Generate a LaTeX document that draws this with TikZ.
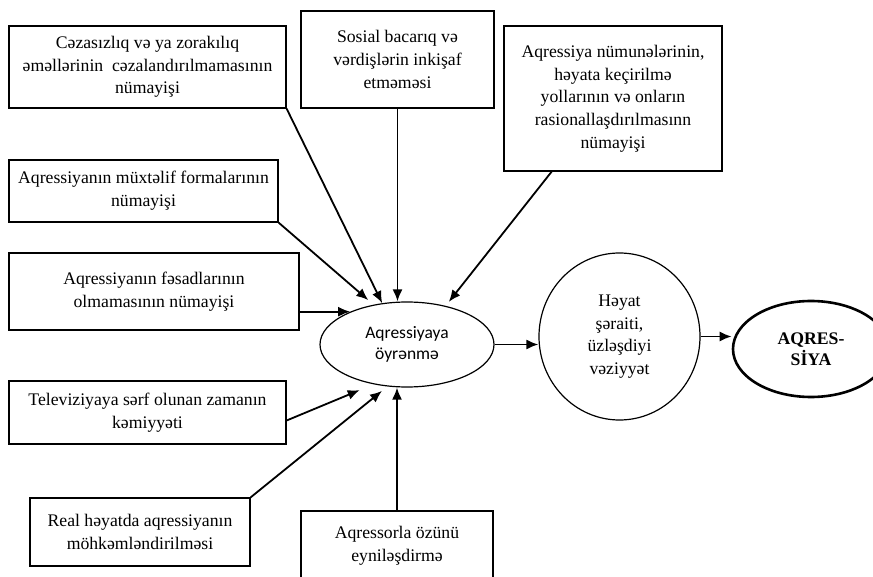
\documentclass[tikz,border=0pt]{standalone}
\usepackage{fontspec}
\setmainfont{Liberation Serif}
\newfontfamily\calibrifont{Carlito}
\usetikzlibrary{arrows.meta,calc,positioning,shapes.geometric}

\begin{document}
\begin{tikzpicture}[
  x=1pt,
  y=-1pt,
  font=\fontsize{17.7}{22.7}\selectfont
]

  \tikzstyle{factnode}=[draw,rectangle,line width=1.2pt,inner sep=0pt,align=center]
  \tikzstyle{learnnode}=[draw,ellipse,line width=1.2pt,inner sep=0pt,align=center,font=\calibrifont\fontsize{17.5}{21}\selectfont]
  \tikzstyle{lifenode}=[draw,ellipse,line width=1.2pt,inner sep=0pt,align=center]
  \tikzstyle{resultnode}=[draw,ellipse,line width=2.6pt,inner sep=0pt,align=center,font=\bfseries\fontsize{17.7}{20.5}\selectfont]

  \tikzstyle{pointer}=[draw,line width=1.8pt,-{Latex[length=12pt,width=10pt]}]

  \useasboundingbox (0,0) rectangle (873,577);

  % nodes
  \node[factnode,minimum width=277pt,minimum height=82pt] (x1) at (147.5,67) {Cəzasızlıq və ya zorakılıq\\ əməllərinin\ \ cəzalandırılmamasının\\ nümayişi};
  \node[factnode,minimum width=193pt,minimum height=97pt] (x2) at (397.5,59.5) {Sosial bacarıq və\\ vərdişlərin inkişaf\\ etməməsi};
  \node[factnode,minimum width=218pt,minimum height=145pt] (x3) at (613,98.5) {Aqressiya nümunələrinin,\\ həyata keçirilmə\\ yollarının və onların\\ rasionallaşdırılmasınn\\ nümayişi};
  \node[factnode,minimum width=269pt,minimum height=62pt] (x4) at (143.5,191) {Aqressiyanın müxtəlif formalarının\\ nümayişi};
  \node[factnode,minimum width=290pt,minimum height=77pt] (x5) at (154,291.5) {Aqressiyanın fəsadlarının\\ olmamasının nümayişi};
  \node[factnode,minimum width=277pt,minimum height=63pt] (x6) at (147.5,412.5) {Televiziyaya sərf olunan zamanın\\ kəmiyyəti};
  \node[factnode,minimum width=220pt,minimum height=68pt] (x7) at (140,532) {Real həyatda aqressiyanın\\ möhkəmləndirilməsi};
  \node[factnode,minimum width=192pt,minimum height=69pt] (x8) at (397,545.5) {Aqressorla özünü\\ eyniləşdirmə};

  \node[learnnode,minimum width=174pt,minimum height=85pt] (learn) at (407,344.5) {Aqressiyaya\\ öyrənmə};
  \node[lifenode,minimum width=161pt,minimum height=167pt] (life) at (619.5,336.5) {Həyat\\ şəraiti,\\ üzləşdiyi\\ vəziyyət};
  \node[resultnode,minimum width=156pt,minimum height=96pt] (risk) at (811,349) {AQRES-\\ SİYA};

  % pointers
  \draw[pointer] (x1.south east) -- (learn.121.5);
  \draw[pointer] (x2.south) -- (x2.south |- learn.north);
  \draw[pointer,shorten >=5pt] (x3.230) -- (learn.45.6);
  \draw[pointer,shorten >=7pt] (x4.south east) -- (learn.130);
  \draw[pointer] (x5.east |- learn.150) -- (learn.150);
  \draw[pointer,shorten >=15pt] ([yshift=-8pt]x6.east) -- (learn.230);
  \draw[pointer,shorten >=7pt] (x7.north east) -- (learn.245);
  \draw[pointer] (x8.north) -- (x8.north |- learn.south);

  \draw[pointer] (learn.east) -- (learn.east -| life.west);
  \draw[pointer] (life.east) -- (life.east -| risk.west);

\end{tikzpicture}
\end{document}
